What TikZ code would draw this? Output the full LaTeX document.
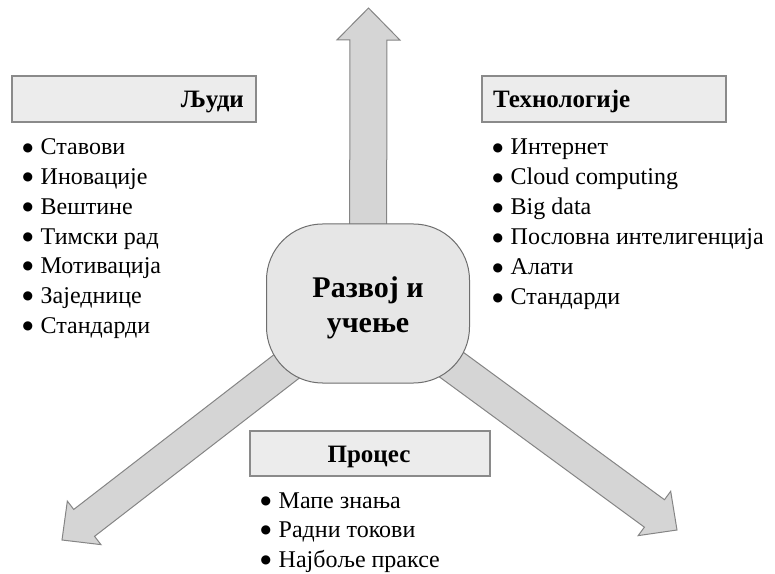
\documentclass[tikz,border=0pt]{standalone}
\usepackage{fontspec}
\setmainfont{Liberation Serif}
\newfontfamily\symfont{DejaVu Sans}
\usetikzlibrary{calc}

\definecolor{arrowfill}{HTML}{D5D5D5}
\definecolor{arrowline}{HTML}{858585}
\definecolor{headfill}{HTML}{ECECEC}
\definecolor{headline}{HTML}{8A8A8A}
\definecolor{corefill}{HTML}{E6E6E6}
\definecolor{coreline}{HTML}{6E6E6E}

% list bullet followed by a fixed gap
\newcommand\bigbullet{\makebox[18pt][l]{\raisebox{3.8pt}{\symfont\fontsize{12}{12}\selectfont ●}}}

\tikzset{
  arrowbody/.style={fill=arrowfill, draw=arrowline, line width=1pt, line join=miter},
  headbox/.style={fill=headfill, draw=headline, line width=1.3pt, minimum width=244pt, minimum height=46pt, inner sep=0pt},
  headtext/.style={inner sep=0pt, font=\fontsize{25}{30}\selectfont\bfseries},
  listitem/.style={inner sep=0pt, anchor=base west, font=\fontsize{24}{30}\selectfont},
  corebox/.style={fill=corefill, draw=coreline, line width=1pt, rounded corners=56pt, minimum width=203pt, minimum height=159pt, inner sep=0pt},
  coretext/.style={inner sep=0pt, align=center, font=\fontsize{30}{35}\selectfont\bfseries},
}

% block arrow: #1 start, #2 tip, #3 shaft half width, #4 head half width,
% #5 head length, #6 name of the head base point
\newcommand\blockarrow[6]{%
  \coordinate (#6) at ($(#2)!#5!(#1)$);
  \draw[arrowbody]
    ($(#1)!#3!90:(#2)$) -- ($(#6)!#3!90:(#2)$) -- ($(#6)!#4!90:(#2)$) -- (#2)
    -- ($(#6)!#4!-90:(#2)$) -- ($(#6)!#3!-90:(#2)$) -- ($(#1)!#3!-90:(#2)$) -- cycle;
}

\begin{document}
\begin{tikzpicture}[x=1pt, y=1pt]
  \useasboundingbox (0,0) rectangle (775,573);

  % hub and arrow tips
  \coordinate (hub) at (368,269.5);
  \coordinate (tipUp) at (368.5,565);
  \coordinate (tipLeft) at (62,33);
  \coordinate (tipRight) at (677,43);

  \blockarrow{hub}{tipUp}{18.5pt}{31.5pt}{32pt}{baseUp}
  \blockarrow{hub}{tipLeft}{17pt}{27.5pt}{28pt}{baseLeft}
  \blockarrow{hub}{tipRight}{17pt}{27.5pt}{28pt}{baseRight}

  % central block
  \node[corebox] (core) at (hub) {};
  \node[coretext] (coreText) at ($(core.center)+(0,-4.5)$) {Развој и\\учење};

  % heading boxes
  \node[headbox] (peopleBox) at (134,474) {};
  \node[headtext, anchor=base east] (peopleTitle) at (244,465) {Људи};

  \node[headbox] (techBox) at (604,474) {};
  \node[headtext, anchor=base west] (techTitle) at (493,465) {Технологије};

  \node[headbox, minimum width=240pt, minimum height=45pt] (procBox) at (370,119.5) {};
  \node[headtext, anchor=base] (procTitle) at (369,111) {Процес};

  % item lists
  \foreach \t [count=\i] in {Ставови, Иновације, Вештине, Тимски рад, Мотивација, Заједнице, Стандарди}
    \node[listitem] (people\i) at (22.5,{418-29.7*(\i-1)}) {\bigbullet\t};

  \foreach \t [count=\i] in {Интернет, Cloud computing, Big data, Пословна интелигенција, Алати, Стандарди}
    \node[listitem] (tech\i) at (492.5,{418-30*(\i-1)}) {\bigbullet\t};

  \foreach \t [count=\i] in {Мапе знања, Радни токови, Најбоље праксе}
    \node[listitem] (proc\i) at (260.5,{65-29.5*(\i-1)}) {\bigbullet\t};
\end{tikzpicture}
\end{document}
